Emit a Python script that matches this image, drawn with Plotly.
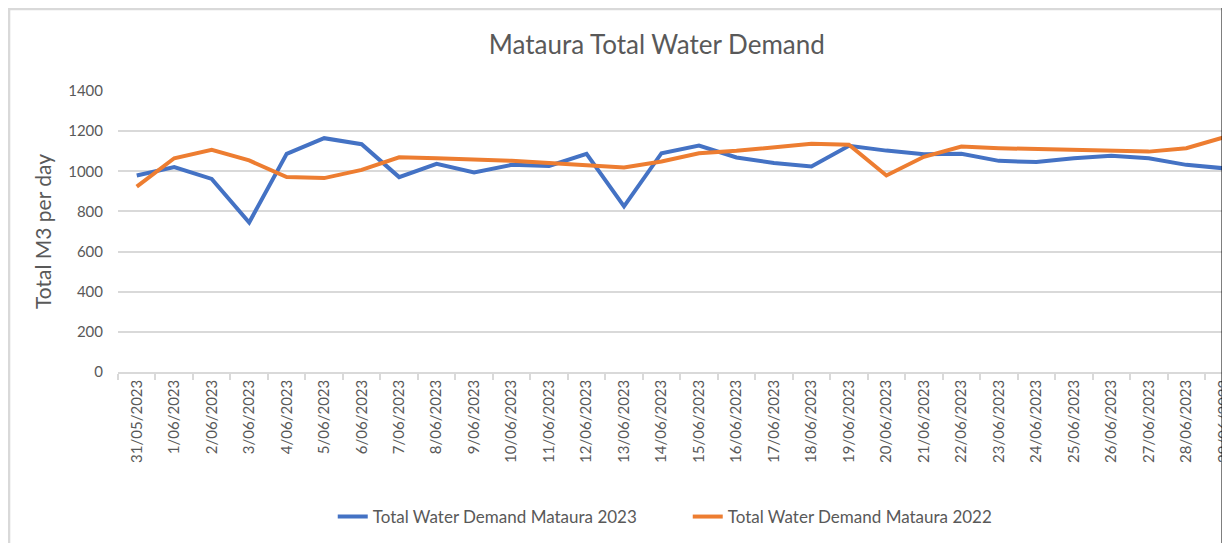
import plotly.graph_objects as go

dates = ["31/05/2023", "1/06/2023", "2/06/2023", "3/06/2023", "4/06/2023", "5/06/2023",
         "6/06/2023", "7/06/2023", "8/06/2023", "9/06/2023", "10/06/2023", "11/06/2023",
         "12/06/2023", "13/06/2023", "14/06/2023", "15/06/2023", "16/06/2023", "17/06/2023",
         "18/06/2023", "19/06/2023", "20/06/2023", "21/06/2023", "22/06/2023", "23/06/2023",
         "24/06/2023", "25/06/2023", "26/06/2023", "27/06/2023", "28/06/2023", "29/06/2023"]

demand_2023 = [979, 1021, 962, 745, 1087, 1165, 1135, 971, 1037, 994, 1032, 1027,
               1087, 825, 1090, 1128, 1069, 1041, 1024, 1127, 1103, 1085, 1087, 1052,
               1046, 1065, 1077, 1065, 1032, 1015]

demand_2022 = [924, 1065, 1107, 1054, 971, 966, 1007, 1070, 1065, 1060, 1052, 1041,
               1029, 1019, 1049, 1090, 1102, 1120, 1137, 1132, 979, 1072, 1123, 1115,
               1112, 1107, 1102, 1098, 1115, 1169]

y_ticks = [0, 200, 400, 600, 800, 1000, 1200, 1400]

# The page body adds an 8px offset, so the figure is sized/positioned in
# coordinates shifted by 8px from the screenshot.
OFF = 8
W, H = 1230 - OFF, 543 - OFF
L, R, T, B = 118 - OFF, 3.5, 91 - OFF, 171
pw = W - L - R
ph = H - T - B

def px(x):
    """screen x -> paper x"""
    return (x - OFF - L) / pw

def py(y):
    """screen y -> paper y"""
    return (H - B - (y - OFF)) / ph

FONT = "Lato"
GRAY = "#595959"
GRID = "#d9d9d9"

fig = go.Figure()
fig.add_trace(go.Scatter(x=dates, y=demand_2023, mode="lines",
                         name="Total Water Demand Mataura 2023",
                         line=dict(color="#4472C4", width=4)))
fig.add_trace(go.Scatter(x=dates, y=demand_2022, mode="lines",
                         name="Total Water Demand Mataura 2022",
                         line=dict(color="#ED7D31", width=4)))

fig.update_layout(
    width=W, height=H,
    margin=dict(l=L, r=R, t=T, b=B, autoexpand=False),
    paper_bgcolor="white", plot_bgcolor="white",
    font=dict(family=FONT, color=GRAY, size=14),
    title=dict(text="Mataura Total Water Demand", x=px(657), xref="paper", xanchor="center",
               y=1 - (45 - OFF) / H, yanchor="middle",
               font=dict(size=26, color=GRAY, family=FONT)),
    showlegend=True,
    legend=dict(orientation="h", x=px(688), xanchor="center", y=py(517), yanchor="middle",
                font=dict(size=17, color=GRAY, family=FONT), bgcolor="rgba(0,0,0,0)",
                itemwidth=30, entrywidth=310, entrywidthmode="pixels"),
    xaxis=dict(type="category", categoryorder="array", categoryarray=dates,
               range=[-0.5, 29.06], showgrid=False, showline=True, linecolor=GRID,
               linewidth=1.5, ticks="outside", tickson="boundaries", ticklen=6,
               tickcolor=GRID, tickwidth=1.5, tickangle=-90,
               tickfont=dict(size=15, color=GRAY, family=FONT), fixedrange=True),
    yaxis=dict(range=[0, 1400], tickvals=y_ticks, showgrid=True, gridcolor=GRID,
               gridwidth=1.5, zeroline=False, showline=False, ticks="",
               ticklabelstandoff=14,
               tickfont=dict(size=15, color=GRAY, family=FONT),
               title=dict(text="Total M3 per day", font=dict(size=21, color=GRAY, family=FONT),
                          standoff=10)),
    shapes=[
        dict(type="line", xref="paper", yref="paper", x0=px(8), x1=px(1222), y0=py(9), y1=py(9),
             line=dict(color=GRID, width=2.5), layer="above"),
        dict(type="line", xref="paper", yref="paper", x0=px(9), x1=px(9), y0=py(8), y1=py(545),
             line=dict(color=GRID, width=2.5), layer="above"),
        dict(type="rect", xref="paper", yref="paper", x0=px(1222), x1=px(1232), y0=py(-2), y1=py(545),
             fillcolor="black", line=dict(width=0), layer="above"),
    ],
)

fig.write_html("out.html")
